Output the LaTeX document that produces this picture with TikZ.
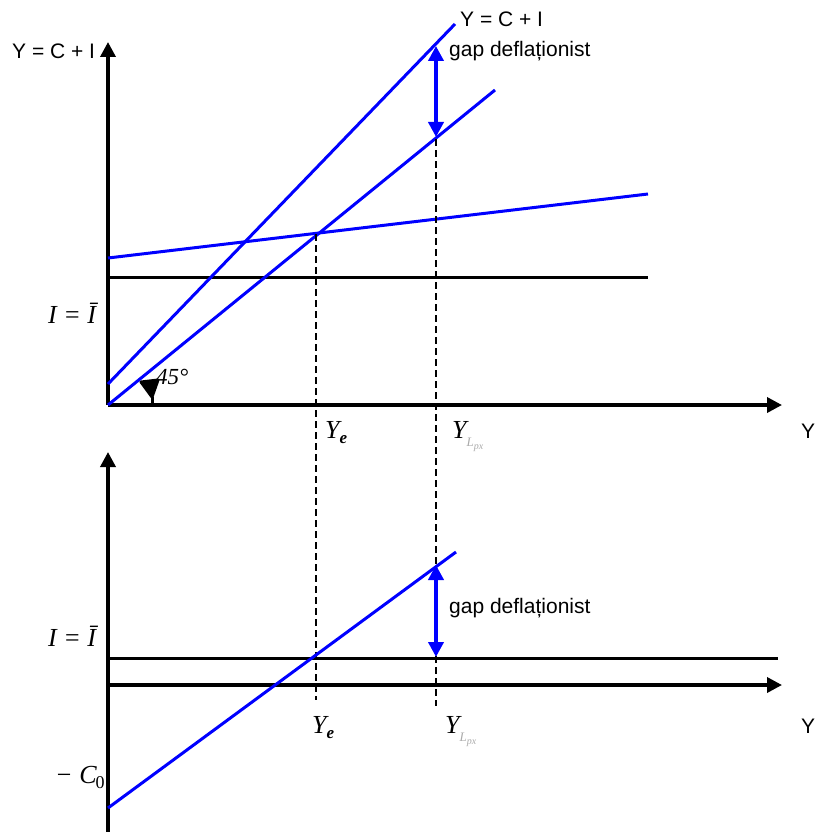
\documentclass[tikz,border=0pt]{standalone}
\usepackage{fontspec}
\setmainfont{Liberation Sans}
\newfontfamily\tnr{Liberation Serif}
\usetikzlibrary{arrows.meta}
\definecolor{pureblue}{RGB}{0,0,255}
\definecolor{subgray}{RGB}{170,170,170}
\tikzset{
  axis/.style={line width=3.5pt,-{Triangle[width=15pt,length=15pt]}},
  hline/.style={line width=3pt},
  bline/.style={line width=3pt,draw=pureblue},
  gaparrow/.style={line width=4.5pt,draw=pureblue,{Triangle[width=15pt,length=15pt]}-{Triangle[width=15pt,length=15pt]}},
  guide/.style={line width=2.2pt,dash pattern=on 7pt off 4pt},
  sanslbl/.style={inner sep=0pt,font=\fontsize{21}{25}\selectfont},
  seriflbl/.style={inner sep=0pt,font=\fontsize{26}{31}\selectfont\tnr\itshape}
}
\newcommand{\subLpx}{\raisebox{-8pt}{\color{subgray}\fontsize{13}{13}\selectfont\tnr\itshape L\raisebox{-3pt}{\fontsize{10}{10}\selectfont px}}}
\newcommand{\subE}{\raisebox{-5pt}{\fontsize{17}{17}\selectfont\tnr\bfseries\itshape e}}
\begin{document}
\begin{tikzpicture}[x=1pt,y=-1pt]
\useasboundingbox (0,0) rectangle (815,832);
% ---------- top panel ----------
\coordinate (O1) at (108,405);
\coordinate (O1top) at (108,42);
\coordinate (O1right) at (782,405);
\draw[axis] (O1) -- (O1top);
\draw[axis] (O1) -- (O1right);
\coordinate (Ia) at (108,277);
\coordinate (Ib) at (648,277);
\draw[hline] (Ia) -- (Ib);
% blue lines
\coordinate (L45a) at (108,405);
\coordinate (L45b) at (495,90);
\coordinate (LUa) at (108,384);
\coordinate (LUb) at (455,24);
\coordinate (LCa) at (108,258);
\coordinate (LCb) at (648,194);
\draw[bline] (L45a) -- (L45b);
\draw[bline] (LUa) -- (LUb);
\draw[bline] (LCa) -- (LCb);
% guides
\coordinate (E1) at (316,234);
\coordinate (E2) at (316,700);
\coordinate (P1) at (436,139);
\coordinate (P2) at (436,706);
\draw[guide] (E1) -- (E2);
\draw[guide] (P1) -- (P2);
% gap arrow top
\coordinate (GTa) at (436,46);
\coordinate (GTb) at (436,137);
\draw[gaparrow] (GTa) -- (GTb);
% angle mark
\coordinate (Ang1) at (141,382);
\coordinate (Ang2) at (158,380);
\coordinate (Ang3) at (152,397);
\coordinate (Ang4) at (152,405);
\draw[line width=3pt,line join=round,fill=black] (Ang1) -- (Ang2) -- (Ang3) -- cycle;
\draw[line width=3pt] (Ang3) -- (Ang4);
% labels top
\node[sanslbl,anchor=base west] (lblYtl) at (12,59) {Y = C + I};
\node[sanslbl,anchor=base west] (lblYtr) at (460,27) {Y = C + I};
\node[sanslbl,anchor=base west] (lblgap1) at (449,57) {gap deflaționist};
\node[sanslbl,anchor=base west] (lblY1) at (801,438) {Y};
\node[seriflbl,anchor=base west] (lblI1) at (48,323) {I = Ī};
\node[inner sep=0pt,anchor=base west,font=\fontsize{23}{28}\selectfont\tnr\itshape] (lbl45) at (156,384) {45°};
\node[seriflbl,anchor=base west] (lblYe1) at (325,438) {Y\subE};
\node[seriflbl,anchor=base west] (lblYp1) at (452,438) {Y\subLpx};
% ---------- bottom panel ----------
\coordinate (O2bot) at (108,832);
\coordinate (O2top) at (108,452);
\coordinate (O2) at (108,685);
\coordinate (O2right) at (782,685);
\draw[axis] (O2bot) -- (O2top);
\draw[axis] (O2) -- (O2right);
\coordinate (Ic) at (108,658);
\coordinate (Id) at (778,658);
\draw[hline] (Ic) -- (Id);
\coordinate (Sa) at (108,808);
\coordinate (Sb) at (456,552);
\draw[bline] (Sa) -- (Sb);
\coordinate (GBa) at (436,565);
\coordinate (GBb) at (436,657);
\draw[gaparrow] (GBa) -- (GBb);
\node[sanslbl,anchor=base west] (lblgap2) at (449,613) {gap deflaționist};
\node[sanslbl,anchor=base west] (lblY2) at (801,733) {Y};
\node[seriflbl,anchor=base west] (lblI2) at (48,646) {I = Ī};
\node[seriflbl,anchor=base west] (lblC0) at (55,783) {− C\kern-1pt\raisebox{-5pt}{\fontsize{18}{18}\selectfont\upshape 0}};
\node[seriflbl,anchor=base west] (lblYe2) at (312,733) {Y\subE};
\node[seriflbl,anchor=base west] (lblYp2) at (445,733) {Y\subLpx};
\end{tikzpicture}
\end{document}
